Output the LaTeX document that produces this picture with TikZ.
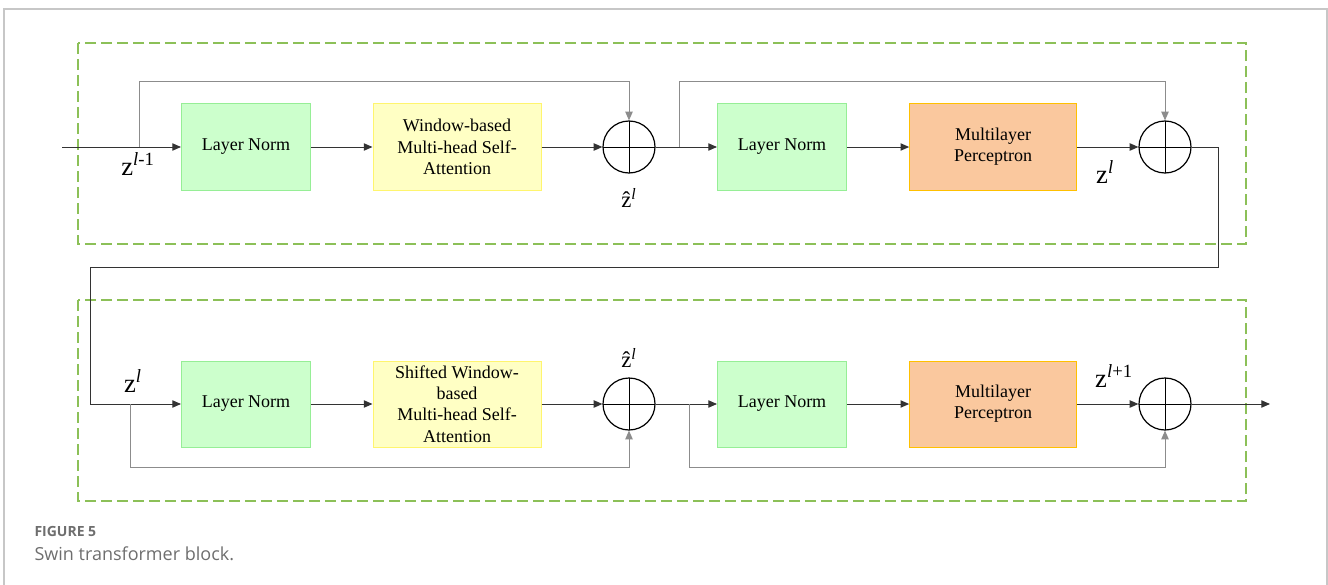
\documentclass[tikz,border=0pt]{standalone}
\usepackage{fontspec}
\setmainfont{Liberation Serif}
\newfontfamily\capfont{Open Sans}
\usetikzlibrary{arrows.meta}

\definecolor{lnfill}{RGB}{204,255,204}
\definecolor{lnline}{RGB}{150,238,150}
\definecolor{atfill}{RGB}{255,255,196}
\definecolor{atline}{RGB}{255,245,110}
\definecolor{mpfill}{RGB}{250,200,158}
\definecolor{mpline}{RGB}{255,192,0}
\definecolor{dashgreen}{RGB}{140,192,88}
\definecolor{capgrey}{RGB}{110,110,110}

\tikzset{every picture/.style={line width=0.75pt}}
\tikzset{
  box/.style={draw, inner sep=2pt, align=center, minimum height=64.5pt,
    font=\fontsize{13.5}{16}\selectfont},
  lnorm/.style={box, fill=lnfill, draw=lnline, minimum width=96.75pt},
  attn/.style={box, fill=atfill, draw=atline, minimum width=126pt},
  mlpbox/.style={box, fill=mpfill, draw=mpline, minimum width=125pt},
  sumnode/.style={circle, draw, line width=0.9pt, minimum size=39pt, inner sep=0pt,
    path picture={\draw[line width=0.75pt] (path picture bounding box.north) -- (path picture bounding box.south)
      (path picture bounding box.west) -- (path picture bounding box.east);}},
  arr/.style={-{Triangle[length=6.5pt,width=5.5pt]}, color=black!80},
  skip/.style={arr, draw=black!45},
  blk/.style={draw=dashgreen, line width=1.5pt, dash pattern=on 8pt off 4pt},
  frame/.style={draw=black!22, line width=0.9pt},
  zlab/.style={inner sep=0.75pt, font=\fontsize{20}{22}\selectfont},
  zhat/.style={inner sep=0.75pt, font=\fontsize{17}{19}\selectfont},
}

\begin{document}
\begin{tikzpicture}[x=0.75pt,y=0.75pt,yscale=-1,xscale=1]
\useasboundingbox (0,0) rectangle (1328,585);

%Shape: Frame
\draw[frame] (4,585) -- (4,9) -- (1327,9) -- (1327,585);
%Shape: Dashed blocks
\draw[blk] (78,43) rectangle (1246,244);
\draw[blk] (78,300) rectangle (1246,501);

% upper block
\draw (246,147) node[lnorm] (ln1) {Layer Norm};
\draw (457,147) node[attn] (wmsa) {Window-based\\Multi-head Self-\\Attention};
\draw (629,147) node[sumnode] (s1) {};
\draw (782,147) node[lnorm] (ln2) {Layer Norm};
\draw (993,147) node[mlpbox] (mlp1) {Multilayer\\Perceptron};
\draw (1165,147) node[sumnode] (s2) {};

\coordinate (in) at (62,147);
\coordinate (sk1) at (139,147);
\coordinate (sk2) at (679,147);
\coordinate (turn1) at (1218,267);
\coordinate (turn2) at (90,404);

%Straight Lines
\draw[arr] (in) -- (ln1);
\draw[arr] (ln1) -- (wmsa);
\draw[arr] (wmsa) -- (s1);
\draw[arr] (s1) -- (ln2);
\draw[arr] (ln2) -- (mlp1);
\draw[arr] (mlp1) -- (s2);
\draw[skip] (sk1) -- ++(0,-65) -| (s1);
\draw[skip] (sk2) -- ++(0,-65) -| (s2);
\draw[arr, -] (s2.east) -| (turn1) -| (turn2);

% lower block
\draw (246,404) node[lnorm] (ln3) {Layer Norm};
\draw (457,404) node[attn] (swmsa) {Shifted Window-\\based\\Multi-head Self-\\Attention};
\draw (629,404) node[sumnode] (s3) {};
\draw (782,404) node[lnorm] (ln4) {Layer Norm};
\draw (993,404) node[mlpbox] (mlp2) {Multilayer\\Perceptron};
\draw (1165,404) node[sumnode] (s4) {};

\coordinate (sk3) at (130,404);
\coordinate (sk4) at (689,404);
\coordinate (out) at (1270,404);

%Straight Lines
\draw[arr] (turn2) -- (ln3);
\draw[arr] (ln3) -- (swmsa);
\draw[arr] (swmsa) -- (s3);
\draw[arr] (s3) -- (ln4);
\draw[arr] (ln4) -- (mlp2);
\draw[arr] (mlp2) -- (s4);
\draw[arr] (s4) -- (out);
\draw[skip] (sk3) -- ++(0,63) -| (s3);
\draw[skip] (sk4) -- ++(0,63) -| (s4);

% Text Node
\draw (138,164) node[zlab] (zin) {z\textsuperscript{\textit{l}-1}};
\draw (629,198) node[zhat] (zh1) {\^{z}\textsuperscript{\textit{l}}};
\draw (1105,172) node[zlab] (zl1) {z\textsuperscript{\textit{l}}};
\draw (133,381) node[zlab] (zl2) {z\textsuperscript{\textit{l}}};
\draw (629,358) node[zhat] (zh2) {\^{z}\textsuperscript{\textit{l}}};
\draw (1114,376) node[zlab] (zout) {z\textsuperscript{\textit{l}+1}};

% Caption
\draw (34,531) node[anchor=west, inner sep=0pt, text=capgrey, font=\capfont\bfseries\fontsize{10.5}{12}\selectfont] (fig) {FIGURE 5};
\draw (34,554) node[anchor=west, inner sep=0pt, text=capgrey, font=\capfont\fontsize{13.5}{15}\selectfont] (cap) {Swin transformer block.};
\end{tikzpicture}
\end{document}
